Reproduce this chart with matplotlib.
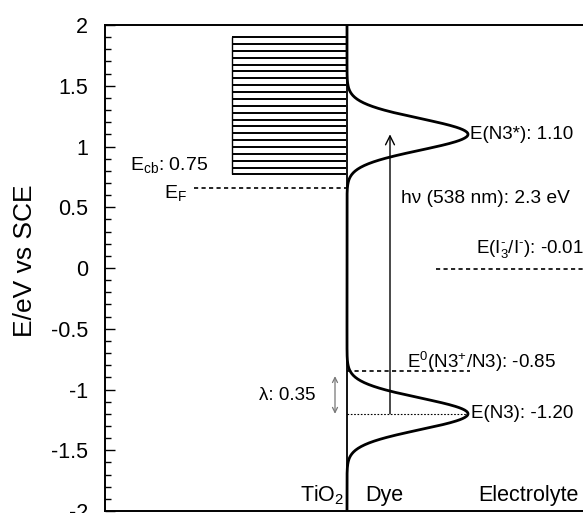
import numpy as np
import matplotlib.pyplot as plt

plt.rcParams['font.family'] = ['Liberation Sans', 'DejaVu Sans']
plt.rcParams['mathtext.fontset'] = 'custom'
plt.rcParams['mathtext.rm'] = 'Liberation Sans'
plt.rcParams['mathtext.it'] = 'Liberation Sans:italic'

# Energy levels (eV vs SCE)
cb_top = 1.90
cb_bottom = 0.77
e_fermi = 0.66
e_excited = 1.10          # E(N3*)
e_ground = -1.20          # E(N3)
e_redox_dye = -0.85       # E0(N3+/N3)
e_electrolyte = -0.01     # E(I3-/I-)
dos_width = 0.13          # gaussian width of the dye levels
n_cb_levels = 21

# horizontal positions (in pixel-like units of the x axis)
x_interface = 347
x_cb_left = 232
dos_height = 121

fig = plt.figure(figsize=(5.83, 5.13), dpi=100)
ax = fig.add_axes([105 / 583, 2 / 513, (700 - 105) / 583, 486 / 513])
ax.set_xlim(105, 700)
ax.set_ylim(-2, 2)

# conduction band of TiO2
cb_levels = np.linspace(cb_bottom, cb_top, n_cb_levels)
ax.hlines(cb_levels, x_cb_left, x_interface - 1, color='black', lw=1.4)
ax.vlines(x_cb_left, cb_bottom, cb_top, color='black', lw=1.0)

# Fermi level
ax.hlines(e_fermi, 194, x_interface, color='black', lw=1.2, linestyles=(0, (2.5, 2)))

# interface line
ax.axvline(x_interface, color='black', lw=1.3)

# dye density of states
E = np.linspace(-2, 2, 800)
dos = np.exp(-(E - e_excited) ** 2 / (2 * dos_width ** 2)) + \
      np.exp(-(E - e_ground) ** 2 / (2 * dos_width ** 2))
ax.plot(x_interface + dos_height * dos, E, color='black', lw=2.0)

# levels
ax.hlines(e_redox_dye, x_interface, 470, color='black', lw=1.2, linestyles=(0, (2.5, 2)))
ax.hlines(e_ground, x_interface, x_interface + dos_height, color='black', lw=0.8,
          linestyles=(0, (1.5, 1.5)))
ax.hlines(e_electrolyte, 436, 700, color='black', lw=1.2, linestyles=(0, (2.5, 2)))

# excitation arrow
ax.annotate('', xy=(390, e_excited), xytext=(390, e_ground),
            arrowprops=dict(arrowstyle='->', color='black', lw=1.0,
                            shrinkA=0, shrinkB=0, mutation_scale=16))
# reorganisation energy arrow
ax.annotate('', xy=(335, e_redox_dye - 0.04), xytext=(335, e_ground),
            arrowprops=dict(arrowstyle='<->', color='#777777', lw=0.9,
                            shrinkA=0, shrinkB=0, mutation_scale=9))

fs = 13.5
ax.text(130, 0.85, r'E$_{\rm cb}$: 0.75', fontsize=14, ha='left', va='center')
ax.text(187, 0.62, r'E$_{\rm F}$', fontsize=14, ha='right', va='center')
ax.text(470, e_excited, 'E(N3*): 1.10', fontsize=fs, ha='left', va='center')
ax.text(401, 0.57, 'h\u03bd (538 nm): 2.3 eV', fontsize=13.8, ha='left', va='center')
ax.text(476, 0.16, r'E(I$_3^{\text{-}}$/I$^{\text{-}}$): -0.01', fontsize=fs,
        ha='left', va='center')
ax.text(407, -0.77, r'E$^0$(N3$^{+}$/N3): -0.85', fontsize=fs, ha='left', va='center')
ax.text(471, e_ground, 'E(N3): -1.20', fontsize=fs, ha='left', va='center')
ax.text(316, -1.05, '\u03bb: 0.35', fontsize=fs, ha='right', va='center')

ax.text(344, -1.87, r'TiO$_2$', fontsize=15.5, ha='right', va='center')
ax.text(365, -1.87, 'Dye', fontsize=15.5, ha='left', va='center')
ax.text(478, -1.87, 'Electrolyte', fontsize=15.5, ha='left', va='center')

# axes styling
ax.set_yticks(np.arange(-2, 2.01, 0.5))
ax.set_yticklabels(['-2', '-1.5', '-1', '-0.5', '0', '0.5', '1', '1.5', '2'])
ax.set_yticks(np.arange(-2, 2.01, 0.1), minor=True)
ax.tick_params(axis='y', which='major', direction='in', length=7, width=1.0,
               labelsize=15.5, pad=12)
ax.tick_params(axis='y', which='minor', direction='in', length=4, width=1.0)
ax.set_xticks([])
for s in ax.spines.values():
    s.set_linewidth(1.4)

fig.text(25 / 583, 1 - 261 / 513, 'E/eV vs SCE', fontsize=19, rotation=90,
         ha='center', va='center')

fig.savefig('out.png', dpi=100)
